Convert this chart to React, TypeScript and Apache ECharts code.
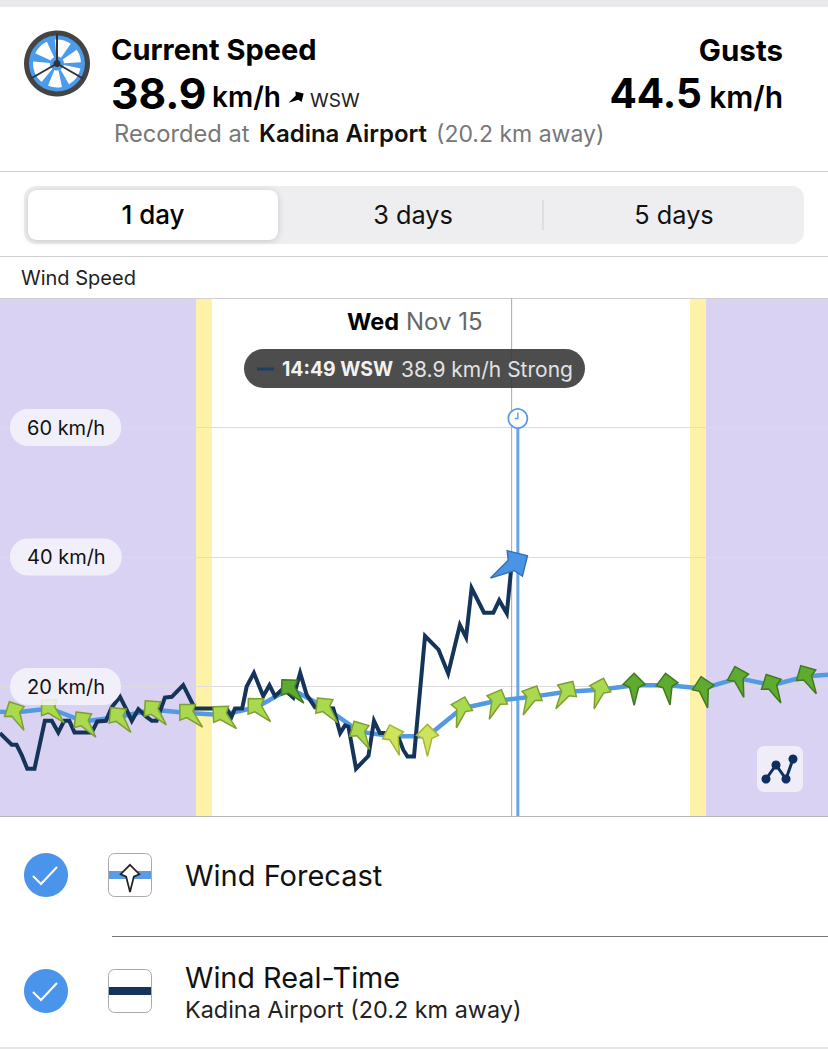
import React, { useEffect, useRef } from "react";
import * as echarts from "echarts";

// ---- data (x = hours of the day, y = km/h) ----
const realTimeHours = [0,0.34,0.48,0.63,0.79,1.0,1.3,1.5,1.69,1.86,2.01,2.16,2.66,2.82,3.07,3.24,3.48,3.67,3.82,4.01,4.25,4.4,4.54,4.78,4.98,5.31,5.65,6.57,6.71,6.81,7.02,7.15,7.36,7.63,7.81,7.97,8.21,8.5,8.7,8.89,9.13,9.66,9.86,10.0,10.1,10.32,10.68,10.84,11.01,11.5,11.69,11.81,12.0,12.32,12.71,12.99,13.33,13.51,13.67,14.03,14.3,14.47,14.69,14.83];
const realTimeSpeed = [12.8,11,11,9.4,7.3,7.3,14.7,14.7,12.9,14.7,14.7,12.9,12.9,14.6,14.7,16.8,18.4,16.4,14.7,16.5,15.3,14.7,14.7,18.3,18.4,20.2,16.6,16.6,15.3,16.6,16.6,20,22.1,18.5,20.2,18.5,19.7,18.3,22.1,18.7,16.8,16.6,12.8,14,13.8,7.3,9.3,14.7,12.8,12.8,10.2,9.2,9.2,27.8,25.7,22,29.5,27.6,35.2,31.4,31.4,33.3,31.3,38.9];
const forecastHours = [0.43,1.45,2.42,3.43,4.44,5.46,6.43,7.44,8.41,9.42,10.43,11.4,12.39,13.38,14.4,15.41,16.42,17.39,18.38,19.34,20.39,21.4,22.37,23.38];
const forecastSpeed = [16,16.6,14.6,15.3,16.4,15.9,15.6,16.8,19.7,16.8,13,12.3,12.3,16.6,17.8,18.4,19.2,19.5,20.2,20.2,19.7,21.3,20.2,21.6];
const forecastDirection = [27,45,38,39,41,45,47,44,43,39,29,18,0,-15,-22,-25,-32,-17,0,8,12,16,27,29];
const forecastBand = [1,1,1,1,1,1,1,1,2,1,1,0,0,1,1,1,1,1,2,2,2,2,2,2];
const forecastStart = [0, 16.1];
const forecastEnd = [24, 21.8];
const nightBands = [[0,5.68],[20.46,24]];
const twilightBands = [[5.68,6.14],[20,20.46]];
const yTickLabels = [20,40,60];
const currentHour = 14.83;
const currentSpeed = 38.9;
const currentDirection = -59;
const forecastCursorHour = 15.01;

const FONT = "Inter, 'Noto Sans', sans-serif";
const ARROW = [[0,-12],[11,-1],[4.5,2],[0,20],[-4.5,2],[-11,-1]];
const BAND_FILL = ["#cfe45c","#a9d94f","#5fab2f"];
const BAND_STROKE = ["#a4b53a","#7f9f32","#40791f"];
const NAVY = "#14345a";
const BLUE = "#539ae3";

const txt = (x:number,y:number,text:string,size:number,weight:any,fill:string,align:string="left",z=40) => ({
  type:"text", x, y, z, silent:true,
  style:{ text, fontFamily:FONT, fontSize:size, fontWeight:weight, fill, align, verticalAlign:"middle" },
});
const rect = (x:number,y:number,width:number,height:number,style:any,r=0,z=40) => ({
  type:"rect", z, silent:true, shape:{x,y,width,height,r}, style,
});
const line = (x1:number,y1:number,x2:number,y2:number,stroke:string,lineWidth=1,z=40) => ({
  type:"line", z, silent:true, shape:{x1,y1,x2,y2}, style:{stroke,lineWidth},
});

function wheel(cx:number,cy:number) {
  const petalsDeg = [[-95,-55],[-35,-3],[12,60],[78,112],[130,185],[205,245]];
  const out:any[] = [
    {type:"circle",z:40,shape:{cx,cy,r:30.5},style:{fill:"#4b9bec",stroke:"#444",lineWidth:5}},
  ];
  petalsDeg.forEach(([a,b])=>out.push({type:"sector",z:40,shape:{cx,cy,r0:7,r:24,startAngle:a*Math.PI/180,endAngle:b*Math.PI/180},style:{fill:"#fff"}}));
  [-Math.PI/2,Math.PI/6,Math.PI*5/6].forEach(a=>out.push(line(cx,cy,cx+30*Math.cos(a),cy+30*Math.sin(a),"#333",2)));
  out.push({type:"circle",z:40,shape:{cx,cy,r:3.5},style:{fill:"#333"}});
  return out;
}
function check(cx:number,cy:number) {
  return [
    {type:"circle",z:40,shape:{cx,cy,r:22},style:{fill:"#4a94ec"}},
    {type:"polyline",z:41,shape:{points:[[cx-13,cy+1],[cx-5,cy+9],[cx+11,cy-8]]},style:{stroke:"#fff",lineWidth:2,fill:"none"}},
  ];
}

function buildOption() {
  const rangeSeries = (name:string,data:number[][],fill:string) => ({
    type:"custom", name, z:1, silent:true, data, encode:{x:[0,1]},
    renderItem:(_:any,api:any)=>{
      const a = api.coord([api.value(0),80]);
      const b = api.coord([api.value(1),0]);
      return {type:"rect",shape:{x:a[0],y:a[1],width:b[0]-a[0],height:b[1]-a[1]},style:{fill}};
    },
  });
  return {
    animation:false,
    backgroundColor:"#fff",
    grid:{left:0,right:0,top:298,bottom:234,containLabel:false},
    xAxis:{type:"value",min:0,max:24,axisLabel:{show:false},axisTick:{show:false},splitLine:{show:false},
      axisLine:{show:true,onZero:false,lineStyle:{color:"#b4b4b8",width:1}},z:2},
    yAxis:[
      {type:"value",min:0,max:80,interval:20,z:2,axisLabel:{show:false},axisTick:{show:false},axisLine:{show:false},
        splitLine:{show:true,lineStyle:{color:"#dcdbe0",width:1}}},
      {type:"value",min:0,max:80,interval:20,z:20,position:"left",axisTick:{show:false},axisLine:{show:false},splitLine:{show:false},
        axisLabel:{inside:true,margin:10,customValues:yTickLabels,formatter:"{value} km/h",fontFamily:FONT,fontSize:20,color:"#111",
          backgroundColor:"rgba(245,244,250,0.85)",borderRadius:18,padding:[9,16,8,17],align:"left"}},
    ],
    series:[
      rangeSeries("Night",nightBands,"#d9d2f3"),
      rangeSeries("Twilight",twilightBands,"#fdf2a6"),
      {type:"custom",name:"Cursor",z:3,silent:true,data:[[currentHour,forecastCursorHour]],encode:{x:[0,1]},
        renderItem:(_:any,api:any)=>{
          const g0 = api.coord([api.value(0),80]);
          const g1 = api.coord([api.value(0),0]);
          const b0 = api.coord([api.value(1),60]);
          const b1 = api.coord([api.value(1),0]);
          const cy = b0[1]-9;
          return {type:"group",children:[
            {type:"line",shape:{x1:g0[0],y1:g0[1],x2:g1[0],y2:g1[1]},style:{stroke:"#a9a9ae",lineWidth:1}},
            {type:"line",shape:{x1:b0[0],y1:b0[1],x2:b1[0],y2:b1[1]},style:{stroke:"#6aa5e8",lineWidth:3}},
            {type:"circle",shape:{cx:b0[0],cy,r:9.5},style:{fill:"#fff",stroke:"#5a9be4",lineWidth:1.8}},
            {type:"polyline",shape:{points:[[b0[0],cy-6],[b0[0],cy],[b0[0]-3,cy]]},style:{stroke:"#5a9be4",lineWidth:1.4,fill:"none"}},
          ]};
        }},
      {type:"line",name:"Wind Forecast",z:4,silent:true,showSymbol:false,
        data:[forecastStart,...forecastHours.map((h,i)=>[h,forecastSpeed[i]]),forecastEnd],
        lineStyle:{color:BLUE,width:4.5}},
      {type:"line",name:"Wind Real-Time",z:5,silent:true,showSymbol:false,
        data:realTimeHours.map((h,i)=>[h,realTimeSpeed[i]]),
        lineStyle:{color:NAVY,width:4,join:"miter"}},
      {type:"custom",name:"Forecast direction",z:6,silent:true,
        data:forecastHours.map((h,i)=>[h,forecastSpeed[i],forecastDirection[i],forecastBand[i]]),
        encode:{x:0,y:1},
        renderItem:(_:any,api:any)=>{
          const p = api.coord([api.value(0),api.value(1)]);
          const b = api.value(3);
          return {type:"polygon",x:p[0],y:p[1],rotation:api.value(2)*Math.PI/180,
            shape:{points:ARROW},style:{fill:BAND_FILL[b],stroke:BAND_STROKE[b],lineWidth:1.5}};
        }},
      {type:"custom",name:"Current direction",z:7,silent:true,
        data:[[currentHour,currentSpeed,currentDirection]],encode:{x:0,y:1},
        renderItem:(_:any,api:any)=>{
          const p = api.coord([api.value(0),api.value(1)]);
          return {type:"polygon",x:p[0]+2,y:p[1],rotation:api.value(2)*Math.PI/180,scaleX:1.35,scaleY:1.35,
            shape:{points:ARROW},style:{fill:"#4a94e6",stroke:"#2f6fb5",lineWidth:1}};
        }},
    ],
    graphic:{elements:[
      rect(0,0,828,7,{fill:"#e9e9ec"}),
      ...wheel(57,63.5),
      txt(111,49.5,"Current Speed",29,700,"#000"),
      txt(111,93,"38.9",42.5,700,"#000"),
      txt(212,97,"km/h",28,600,"#000"),
      {type:"polygon",z:40,x:298,y:97,rotation:-59*Math.PI/180,scaleX:0.55,scaleY:0.55,shape:{points:ARROW},style:{fill:"#000"}},
      txt(310,100,"WSW",19,400,"#222"),
      txt(114,133.5,"Recorded at",23.7,400,"#777"),
      txt(259,133.5,"Kadina Airport",24,600,"#111"),
      txt(436,133.5,"(20.2 km away)",23,400,"#777"),
      txt(783,49.5,"Gusts",29.5,700,"#000","right"),
      txt(702,93,"44.5",40.5,700,"#000","right"),
      txt(783,97,"km/h",30,600,"#000","right"),
      line(0,171.5,828,171.5,"#cfcfd3"),
      rect(24,186,780,58,{fill:"#eeeef0"},12),
      rect(28,190,250,50,{fill:"#fff",shadowBlur:6,shadowColor:"rgba(0,0,0,0.18)",shadowOffsetY:1},9),
      txt(153,214.5,"1 day",26,500,"#000","center"),
      txt(413,214.5,"3 days",25.3,400,"#111","center"),
      line(543,200,543,230,"#cfcfd3"),
      txt(674,214.5,"5 days",25.3,400,"#111","center"),
      line(0,256.5,828,256.5,"#cfcfd3"),
      txt(21,278,"Wind Speed",20,400,"#222"),
      line(0,298.5,828,298.5,"#cfcfd3",1,3),
      txt(347,321.5,"Wed",23.5,700,"#000"),
      txt(406,321.5,"Nov 15",24,400,"#666"),
      rect(244,349,341,39,{fill:"rgba(52,52,52,0.88)"},19.5),
      line(257,369,274,369,"#1d3e69",3),
      txt(282,369,"14:49 WSW",19.4,700,"#f2f2f2"),
      txt(401,369,"38.9 km/h Strong",21,400,"#e2e2e2"),
      rect(757,746,46,46,{fill:"#efedf8"},7,21),
      {type:"polyline",z:22,shape:{points:[[766,779],[776,765],[786,779],[793,759]]},style:{stroke:"#0f2f62",lineWidth:3,fill:"none"}},
      ...[[766,779],[776,765],[786,779],[793,759]].map(([cx,cy])=>({type:"circle",z:22,shape:{cx,cy,r:4.5},style:{fill:"#0f2f62"}})),
      ...check(46,875),
      rect(108.5,853.5,43,43,{fill:"#fff",stroke:"#aaa",lineWidth:1},6),
      rect(109,871,42,8,{fill:"#5a9de6"},0,41),
      {type:"polygon",z:42,x:130,y:875,scaleX:0.85,scaleY:0.85,shape:{points:ARROW},style:{fill:"#fff",stroke:"#222",lineWidth:2}},
      txt(185,875.5,"Wind Forecast",29,400,"#111"),
      line(112,936.5,828,936.5,"#777"),
      ...check(46,991),
      rect(108.5,969.5,43,43,{fill:"#fff",stroke:"#aaa",lineWidth:1},6),
      rect(109,987,42,8,{fill:NAVY},0,41),
      txt(185,977,"Wind Real-Time",28.8,400,"#111"),
      txt(185,1009.5,"Kadina Airport (20.2 km away)",23.4,400,"#222"),
      line(0,1048,828,1048,"#cfcfd3"),
    ]},
  };
}

export default function App() {
  const ref = useRef<HTMLDivElement>(null);
  useEffect(()=>{
    document.body.style.margin = "0";
    const chart = echarts.init(ref.current!, null, { renderer:"svg" });
    chart.setOption(buildOption() as any);
    return ()=>chart.dispose();
  },[]);
  return <div ref={ref} style={{width:828,height:1050}} />;
}
